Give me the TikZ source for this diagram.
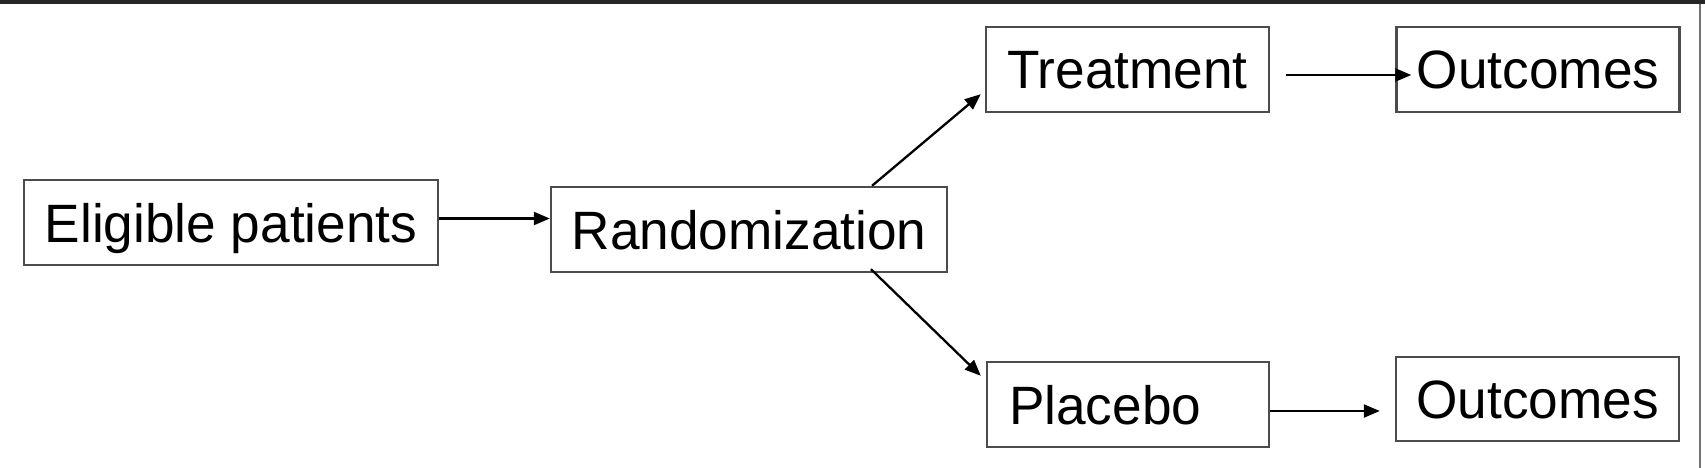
\documentclass[tikz,border=0pt]{standalone}
\usepackage{fontspec}
\setmainfont[FakeStretch=0.985]{Liberation Sans}
\usetikzlibrary{arrows.meta}
\begin{document}
\begin{tikzpicture}[x=1pt,y=-1pt,
  box/.style={draw=black!70, line width=2.4pt, rectangle, minimum height=85pt,
    inner sep=0pt, font=\fontsize{54}{60}\selectfont, text height=39pt, text depth=0pt, anchor=center},
  conn/.style={line width=2.3pt, -{Triangle[length=16pt,width=13pt]}}]
\fill[white] (0,0) rectangle (1705,468);
\useasboundingbox (0,0) rectangle (1705,468);
\fill[black!85] (0,0) rectangle (1705,4);
\draw[black!55, line width=2pt] (1700,4) -- (1700,468);

\node[box, minimum width=414pt] (elig) at (231,222.5) {Eligible patients};
\node[box, minimum width=396pt] (rand) at (749,229.5) {Randomization};
\node[box, minimum width=283pt] (treat) at (1127.5,69.5) {Treatment};
\node[box, minimum width=283pt] (out1) at (1538,69.5) {Outcomes};
\node[box, minimum width=282pt, text width=238pt, align=left, inner xsep=21pt] (plac) at (1128,404.5) {Placebo};
\node[box, minimum width=283pt, minimum height=84pt] (out2) at (1537.5,399) {Outcomes};

\draw[conn] ([yshift=4pt]elig.east) -- ([yshift=4pt]elig.east -| rand.west);
\draw[conn] ([xshift=123pt]rand.north) -- ([xshift=-4pt,yshift=19pt]treat.south west);
\draw[conn] ([xshift=122pt,yshift=4pt]rand.south) -- ([xshift=-5pt,yshift=-15pt]plac.north west);
\draw[conn] ([xshift=16pt,yshift=-5.5pt]treat.east) -- ([xshift=16pt,yshift=-5.5pt]treat.east -| out1.west);
\draw[conn] ([yshift=-6.5pt]plac.east) -- ([xshift=-15pt,yshift=-6.5pt]plac.east -| out2.west);
\end{tikzpicture}
\end{document}
